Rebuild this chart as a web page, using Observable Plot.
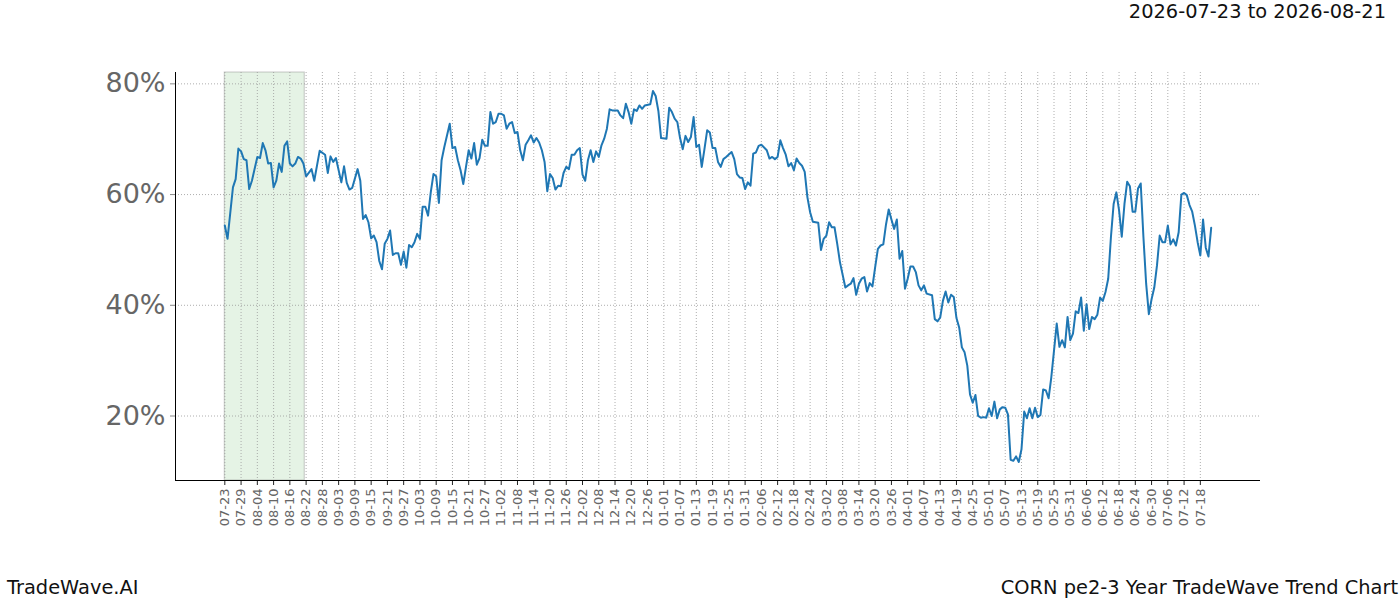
<!DOCTYPE html>
<html>
<head>
<meta charset="utf-8">
<script src="https://cdn.jsdelivr.net/npm/d3@7"></script>
<script src="https://cdn.jsdelivr.net/npm/@observablehq/plot@0.6"></script>
<style>
  html, body { margin: 0; padding: 0; background: #fff; }
  #wrap { position: relative; width: 1400px; height: 600px; font-family: "DejaVu Sans", sans-serif; }
  .txt { position: absolute; font-size: 19.4px; color: #111; white-space: nowrap; line-height: 1; }
</style>
</head>
<body>
<div id="wrap">
  <div class="txt" id="title" style="right:14px; top:2px;"></div>
  <div class="txt" id="left" style="left:7px; top:578px;"></div>
  <div class="txt" id="right" style="right:2px; top:578px;"></div>
</div>
<script>
const titleText = "2026-07-23 to 2026-08-21";
const footLeft = "TradeWave.AI";
const footRight = "CORN pe2-3 Year TradeWave Trend Chart";

const startDate = "2025-07-23";
const shadeStart = "2025-07-23";
const shadeEnd = "2025-08-21";

// day offsets from startDate
const days = [0,1,3,4,5,6,7,8,9,10,12,13,14,15,16,17,18,19,20,21,22,23,24,25,26,27,28,29,30,32,33,
35,37,38,39,40,41,43,44,45,46,47,49,50,51,52,53,54,55,56,57,58,59,60,61,62,63,64,65,66,67,68,69,70,71,72,73,74,75,76,77,78,79,80,81,83,
84,85,86,87,88,89,90,91,92,93,94,95,96,97,98,99,100,101,102,103,104,105,106,107,108,109,110,111,112,113,114,115,116,117,118,119,120,121,122,123,124,125,126,127,128,129,130,131,132,133,
134,135,136,137,138,139,140,141,142,143,145,146,147,148,149,150,151,152,153,154,155,157,158,159,160,161,163,164,165,166,167,168,169,170,171,172,173,174,175,176,177,178,179,180,181,182,183,
184,185,187,188,189,190,191,192,193,194,195,196,197,198,200,201,202,203,204,205,206,207,208,209,210,211,212,213,214,215,216,217,219,220,221,222,223,224,225,226,227,
229,230,231,232,233,234,235,236,237,238,239,240,241,242,243,244,245,246,247,248,249,250,251,252,253,254,255,256,257,258,259,261,262,263,264,265,266,267,268,269,270,
271,272,273,274,275,276,277,278,279,280,281,282,283,284,285,286,287,288,289,290,291,292,293,294,295,296,297,298,299,300,301,302,303,304,305,306,307,308,309,310,
311,312,313,314,315,316,317,318,319,320,321,322,323,324,325,326,327,328,329,330,331,332,333,334,335,336,337,338,339,340,341,342,343,344,345,346,347,348,349,350,
351,352,353,354,355,356,357,358,359,360,361,362,363,364];

const values = [54.4,52.0,61.3,62.8,68.3,67.8,66.4,66.2,61.0,62.5,66.8,66.6,69.3,68.0,65.6,65.7,61.3,62.5,65.6,64.1,68.8,69.6,65.6,65.1,65.6,66.8,66.5,65.6,63.3,64.6,62.5,
67.9,67.2,63.9,66.9,65.9,66.6,62.2,65.1,62.1,60.9,61.2,64.6,62.5,55.6,56.3,55.0,52.1,52.6,51.4,48.0,46.5,51.1,52.0,53.5,49.1,49.4,49.4,47.3,49.7,46.8,50.9,50.5,51.4,52.9,52.0,57.8,57.8,56.2,60.4,63.7,63.3,58.5,66.2,68.6,72.8,
68.4,68.6,66.2,64.4,61.9,65.0,68.0,66.5,69.3,65.4,66.6,69.9,68.8,68.8,74.9,72.8,73.1,74.6,74.6,74.3,71.9,72.8,73.1,71.1,71.3,68.0,66.2,69.0,69.8,70.7,69.4,70.2,69.4,68.0,65.9,60.6,63.7,63.0,60.9,61.6,61.5,63.9,65.0,64.6,67.2,67.2,68.0,68.4,63.6,62.5,
66.2,68.0,65.9,67.8,66.8,68.9,70.1,71.9,75.4,75.2,75.2,74.3,73.8,76.4,74.9,72.8,75.4,75.1,76.1,75.5,76.1,76.3,78.7,77.8,75.1,70.2,70.1,75.7,74.9,73.7,73.1,70.2,68.2,70.6,69.5,70.4,74.0,68.6,69.0,65.0,68.2,71.6,71.2,68.4,68.4,65.9,65.0,
66.4,66.8,67.7,66.4,63.7,63.1,63.0,61.0,62.2,61.6,67.4,67.6,68.8,69.0,68.0,66.5,66.8,66.4,66.8,69.8,68.4,67.2,65.1,65.7,64.4,66.5,65.7,65.2,64.1,59.5,56.8,55.1,54.9,50.0,52.0,52.6,55.0,54.1,54.1,51.1,47.8,
43.2,43.6,43.9,44.9,41.9,43.9,44.8,45.1,42.5,44.0,43.4,46.9,50.2,50.8,51.0,54.6,57.3,55.5,53.8,55.5,48.4,49.8,43.0,44.8,47.0,47.0,46.0,43.6,42.7,43.6,42.1,41.8,37.5,37.1,37.8,40.8,42.5,40.5,41.9,41.5,37.7,
36.0,32.4,31.5,29.1,23.9,22.4,23.8,20.0,19.7,19.8,19.7,21.4,20.0,22.6,19.6,21.2,21.6,21.5,20.3,12.1,11.9,12.7,11.7,14.0,20.8,19.6,21.4,19.6,21.5,19.8,20.2,24.8,24.6,23.2,27.0,31.8,36.7,32.5,33.7,32.4,
37.9,33.7,34.9,38.9,38.6,41.4,35.4,40.2,35.7,37.9,37.5,38.3,41.4,40.8,42.4,44.8,52.3,58.3,60.4,57.2,52.4,58.3,62.3,61.5,56.9,56.9,61.1,62.0,52.3,43.9,38.4,41.1,43.2,47.2,52.6,51.4,51.4,54.4,51.0,51.9,
50.8,53.2,60.0,60.3,59.9,58.1,56.9,54.4,51.4,49.0,55.5,50.4,48.8,54.0];

const tickLabels = ["07-23","07-29","08-04","08-10","08-16","08-22","08-28","09-03","09-09","09-15","09-21","09-27","10-03","10-09","10-15","10-21","10-27","11-02","11-08","11-14","11-20","11-26","12-02","12-08","12-14","12-20","12-26","01-01","01-07","01-13","01-19","01-25","01-31","02-06","02-12","02-18","02-24","03-02","03-08","03-14","03-20","03-26","04-01","04-07","04-13","04-19","04-25","05-01","05-07","05-13","05-19","05-25","05-31","06-06","06-12","06-18","06-24","06-30","07-06","07-12","07-18"];
const yTicks = [20, 40, 60, 80];

const DAY = 864e5;
const t0 = new Date(startDate + "T00:00:00Z");
const data = days.map((d, i) => ({date: new Date(t0.getTime() + d * DAY), value: values[i]}));
// tick label i sits at startDate + 6*i days
const tickDates = tickLabels.map((_, i) => new Date(t0.getTime() + i * 6 * DAY));

const xExt = d3.extent(data, d => d.date);
const xPad = (xExt[1] - xExt[0]) * 0.05;
const xDomain = [new Date(+xExt[0] - xPad), new Date(+xExt[1] + xPad)];
const yExt = d3.extent(values);
const yPad = (yExt[1] - yExt[0]) * 0.05;
const yDomain = [yExt[0] - yPad, yExt[1] + yPad];

const shade = [{x1: new Date(shadeStart + "T00:00:00Z"), x2: new Date(new Date(shadeEnd + "T00:00:00Z").getTime() + 0.5 * DAY)}];

const chart = Plot.plot({
  width: 1400,
  height: 600,
  marginLeft: 175,
  marginRight: 140,
  marginTop: 72,
  marginBottom: 120,
  style: {fontFamily: "DejaVu Sans, sans-serif", background: "transparent"},
  x: {type: "utc", domain: xDomain},
  y: {domain: yDomain},
  marks: [
    Plot.rect(shade, {x1: "x1", x2: "x2", fill: "#2ca02c", fillOpacity: 0.12, stroke: "#7f7f7f", strokeOpacity: 0.35, strokeWidth: 1.2}),
    Plot.ruleX(tickDates, {stroke: "#999", strokeWidth: 0.8, strokeDasharray: "1,2"}),
    Plot.ruleY(yTicks, {stroke: "#999", strokeWidth: 0.8, strokeDasharray: "1,2"}),
    Plot.line(data, {x: "date", y: "value", stroke: "#1f77b4", strokeWidth: 2}),
    Plot.axisX({ticks: tickDates, tickFormat: (d, i) => tickLabels[i], tickRotate: -90, tickSize: 5, tickPadding: 3, fontSize: 13, stroke: "#222", fill: "#666", label: null}),
    Plot.axisY({ticks: yTicks, tickFormat: d => d + "%", tickSize: 5, tickPadding: 5, fontSize: 27, stroke: "#888", fill: "#666", label: null}),
    Plot.ruleX([xDomain[0]], {stroke: "black", strokeWidth: 1}),
    Plot.ruleY([yDomain[0]], {stroke: "black", strokeWidth: 1})
  ]
});
document.getElementById("wrap").prepend(chart);
document.getElementById("title").textContent = titleText;
document.getElementById("left").textContent = footLeft;
document.getElementById("right").textContent = footRight;
</script>
</body>
</html>
